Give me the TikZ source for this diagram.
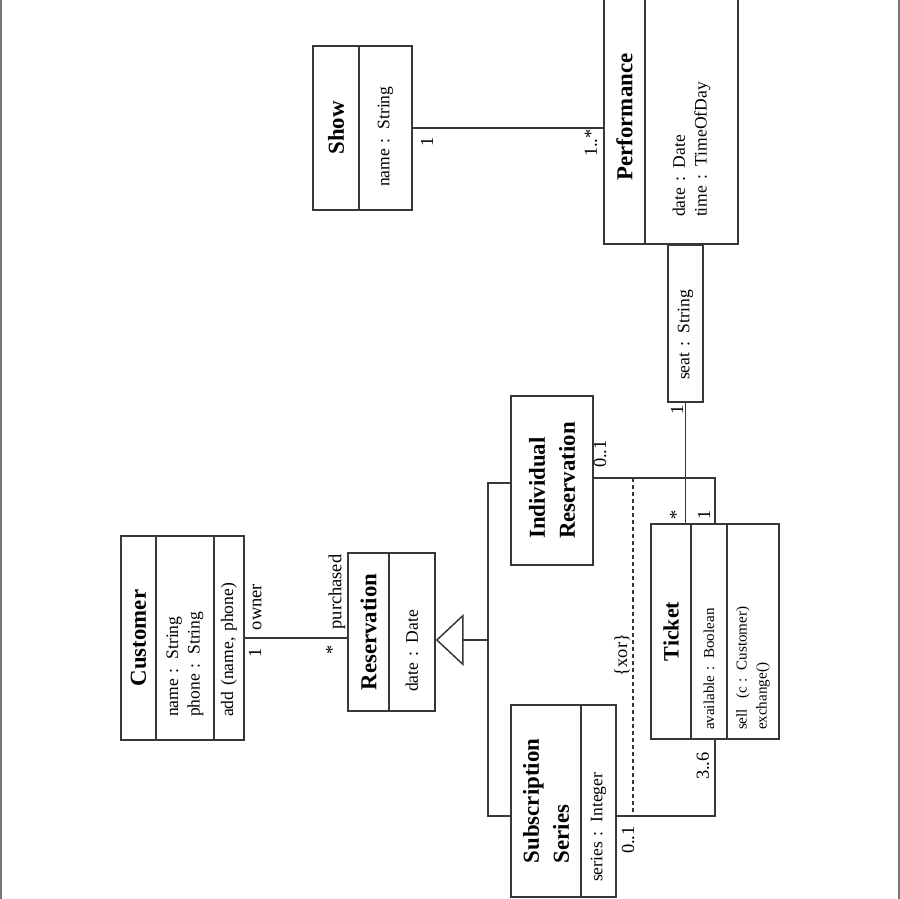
\documentclass[tikz,border=0pt]{standalone}
\usepackage{fontspec}
\setmainfont{Liberation Serif}
\usepackage{tikz}
\usetikzlibrary{arrows.meta, calc}
\definecolor{umlline}{RGB}{55, 55, 55}
\definecolor{framegray}{RGB}{120, 120, 120}

\begin{document}
\begin{tikzpicture}[x=0.02cm, y=-0.02cm,
  cname/.style={draw=umlline, line width=0.85pt, rotate=90, align=center, inner sep=0pt, font=\fontsize{13}{17}\selectfont\bfseries},
  cattr/.style={draw=umlline, line width=0.85pt, rotate=90, align=left, inner ysep=0pt, font=\fontsize{10}{12.3}\selectfont},
  tktfont/.style={font=\fontsize{8.6}{11.4}\selectfont},
  mult/.style={rotate=90, inner sep=0pt, font=\fontsize{10.5}{12}\selectfont},
  assoc/.style={draw=umlline, line width=0.85pt}
]
  \useasboundingbox (0,0) rectangle (900,899);

  % Frame edges
  \draw[framegray, line width=1.2pt] (0.6,0) -- (0.6,899);
  \draw[framegray, line width=1.2pt] (899.4,0) -- (899.4,899);

  % Customer
  \node[cname, minimum width=4.08cm, minimum height=0.70cm] (custname) at (138.5,638) {Customer};
  \node[cattr, minimum height=1.16cm, text width=3.16cm, inner xsep=0.46cm] (custattr) at (185,638) {name : String\\phone : String};
  \node[cattr, minimum height=0.60cm, text width=3.16cm, inner xsep=0.46cm] (custops) at (229,638) {add (name, phone)};

  % Reservation
  \node[cname, minimum width=3.16cm, minimum height=0.82cm] (resname) at (368.5,632) {Reservation};
  \node[cattr, minimum height=0.92cm, text width=2.40cm, inner xsep=0.38cm] (resattr) at (412,632) {date : Date};

  % Show
  \node[cname, minimum width=3.28cm, minimum height=0.92cm] (showname) at (336,128) {Show};
  \node[cattr, minimum height=1.06cm, text width=2.36cm, inner xsep=0.46cm] (showattr) at (385.5,128) {name : String};

  % Performance
  \node[cname, minimum width=5.08cm, minimum height=0.82cm] (perfname) at (624.5,117) {Performance};
  \node[cattr, minimum height=1.86cm, text width=4.00cm, inner xsep=0.54cm] (perfattr) at (691.5,117) {date : Date\\time : TimeOfDay};

  % Qualifier
  \node[cattr, minimum height=0.70cm, text width=2.26cm, inner xsep=0.44cm] (seat) at (685.5,323.5) {seat : String};

  % Individual Reservation
  \node[cname, align=left, minimum width=3.38cm, minimum height=1.64cm] (indres) at (552,480.5) {Individual\\Reservation};

  % Ticket
  \node[cname, font=\fontsize{12.5}{15}\selectfont\bfseries, minimum width=4.30cm, minimum height=0.80cm] (tktname) at (671,631.5) {Ticket};
  \node[cattr, tktfont, minimum height=0.72cm, text width=3.94cm, inner xsep=0.18cm] (tktattr) at (709,631.5) {available : Boolean};
  \node[cattr, tktfont, minimum height=1.04cm, text width=3.94cm, inner xsep=0.18cm] (tktops) at (753,631.5) {sell\ \ (c : Customer)\\exchange()};

  % Subscription Series
  \node[cname, align=left, minimum width=3.84cm, minimum height=1.40cm] (subname) at (546,801) {Subscription\\Series};
  \node[cattr, minimum height=0.70cm, text width=3.24cm, inner xsep=0.30cm] (subattr) at (598.5,801) {series : Integer};

  % Joints
  \coordinate (gen) at (488,640);
  \coordinate (genTop) at (488,483);
  \coordinate (genBot) at (488,816);
  \coordinate (indJoin) at (715,478);
  \coordinate (subJoin) at (715,816);
  \coordinate (xorTop) at (633,478);
  \coordinate (xorBot) at (633,816);

  % Associations
  \draw[assoc] (custops.south) -- (custops.south -| resname.north);
  \draw[assoc] (showattr.south) -- (showattr.south -| perfname.north);
  \draw[assoc] (seat.west) -- (seat.west |- tktname.east);
  \draw[assoc] (indJoin -| indres.south) -- (indJoin) -- (indJoin |- tktattr.east);
  \draw[assoc] (subJoin -| subattr.south) -- (subJoin) -- (subJoin |- tktattr.west);

  % Generalization
  \draw[assoc] (genTop -| indres.north) -- (genTop) -- (genBot) -- (genBot -| subname.north);
  \draw[assoc, -{Triangle[open, length=0.56cm, width=1.04cm]}] (gen) -- (gen -| resattr.south);

  % xor constraint
  \draw[assoc, dash pattern=on 2.3pt off 1.7pt] (xorTop) -- (xorBot);
  \node[mult] (xorlabel) at (622,655) {\{xor\}};

  % Multiplicities and roles
  \node[mult] (custmult) at (255,653) {1};
  \node[mult] (ownerrole) at (257,607) {owner};
  \node[mult] (resmult) at (332,650) {*};
  \node[mult] (purchrole) at (337,592) {purchased};
  \node[mult] (showmult) at (427,142) {1};
  \node[mult] (perfmult) at (591,143) {1..*};
  \node[mult] (seatmult) at (677,410) {1};
  \node[mult] (tktperf) at (676,515) {*};
  \node[mult] (tktind) at (704,515) {1};
  \node[mult] (indmult) at (600,454) {0..1};
  \node[mult] (tktsub) at (703,766) {3..6};
  \node[mult] (submult) at (628,840) {0..1};
\end{tikzpicture}
\end{document}
